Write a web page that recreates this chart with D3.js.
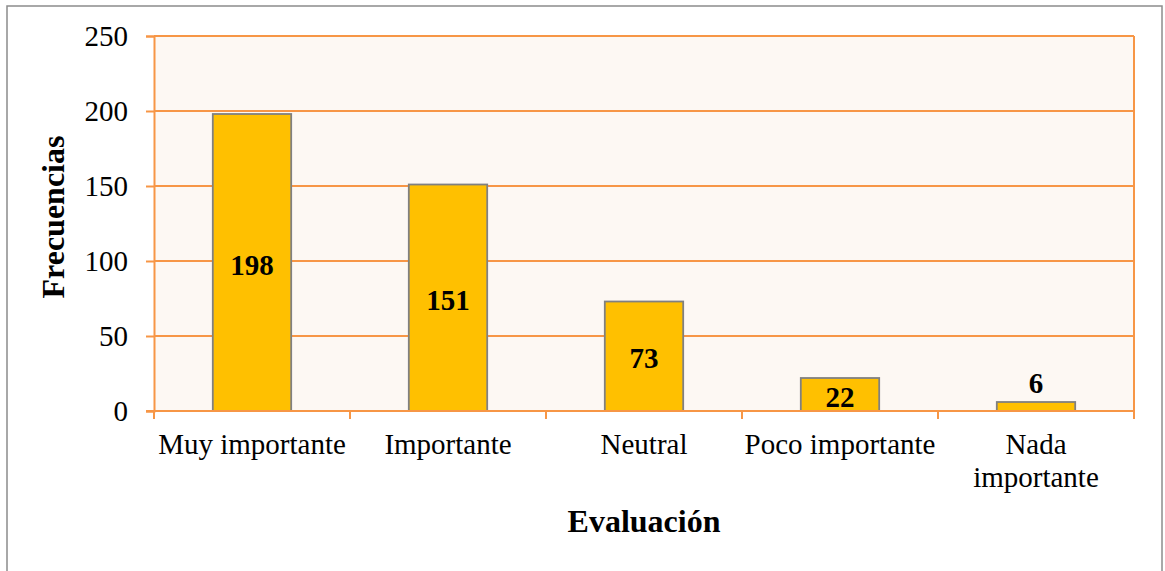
<!DOCTYPE html>
<html>
<head>
<meta charset="utf-8">
<script src="https://cdn.jsdelivr.net/npm/d3@7"></script>
<style>
  html, body { margin: 0; padding: 0; background: #ffffff; }
  svg { display: block; font-family: "Liberation Serif", "Times New Roman", serif; }
</style>
</head>
<body>
<svg id="chart" width="1165" height="571"></svg>
<script>
// Evaluation categories and their counts
const categories = ["Muy importante", "Importante", "Neutral", "Poco importante", "Nada importante"];
const categoryLines = [["Muy importante"], ["Importante"], ["Neutral"], ["Poco importante"], ["Nada", "importante"]];
const frequencies = [198, 151, 73, 22, 6];
const yTicks = [0, 50, 100, 150, 200, 250];

const svg = d3.select("#chart");
const plot = { left: 154, top: 36, right: 1134, bottom: 411 };

// Outer frame
svg.append("rect")
  .attr("x", 7).attr("y", 6)
  .attr("width", 1155).attr("height", 600)
  .attr("fill", "#ffffff")
  .attr("stroke", "#8c8c8c").attr("stroke-width", 1.5);

const x = d3.scaleBand()
  .domain(categories)
  .range([plot.left, plot.right])
  .paddingInner(0.6).paddingOuter(0.3);

const y = d3.scaleLinear().domain([0, 250]).range([plot.bottom, plot.top]);

// Plot background
svg.append("rect")
  .attr("x", plot.left).attr("y", plot.top)
  .attr("width", plot.right - plot.left).attr("height", plot.bottom - plot.top)
  .attr("fill", "#fdf8f3");

const orange = "#f79646";

// Horizontal gridlines
svg.append("g").selectAll("line").data(yTicks.filter(d => d > 0)).join("line")
  .attr("x1", plot.left).attr("x2", plot.right)
  .attr("y1", d => y(d)).attr("y2", d => y(d))
  .attr("stroke", orange).attr("stroke-width", 2);

// Right border of plot area
svg.append("line")
  .attr("x1", plot.right).attr("x2", plot.right)
  .attr("y1", plot.top).attr("y2", plot.bottom)
  .attr("stroke", orange).attr("stroke-width", 2);

// Bars
svg.append("g").selectAll("rect").data(frequencies).join("rect")
  .attr("x", (d, i) => x(categories[i]))
  .attr("y", d => y(d))
  .attr("width", x.bandwidth())
  .attr("height", d => y(0) - y(d))
  .attr("fill", "#ffc000")
  .attr("stroke", "#808080").attr("stroke-width", 1.8);

// Y axis
const yAxis = d3.axisLeft(y).tickValues(yTicks).tickSize(8).tickPadding(18);
const gy = svg.append("g").attr("transform", `translate(${plot.left},0)`).call(yAxis);
gy.select(".domain").attr("stroke", orange).attr("stroke-width", 2);
gy.selectAll(".tick line").attr("stroke", orange).attr("stroke-width", 2);
gy.selectAll(".tick text")
  .attr("font-family", "Liberation Serif, Times New Roman, serif")
  .attr("font-size", 29).attr("fill", "#000");

// X axis: ticks at category boundaries
const boundaries = d3.range(categories.length + 1).map(i => plot.left + i * (plot.right - plot.left) / categories.length);
svg.append("line")
  .attr("x1", plot.left - 8).attr("x2", plot.right)
  .attr("y1", plot.bottom).attr("y2", plot.bottom)
  .attr("stroke", orange).attr("stroke-width", 2);
svg.append("g").selectAll("line").data(boundaries).join("line")
  .attr("x1", d => d).attr("x2", d => d)
  .attr("y1", plot.bottom).attr("y2", plot.bottom + 8)
  .attr("stroke", orange).attr("stroke-width", 2);

// Category labels
const catG = svg.append("g").attr("font-size", 29).attr("text-anchor", "middle").attr("fill", "#000");
categories.forEach((c, i) => {
  const cx = x(c) + x.bandwidth() / 2;
  const t = catG.append("text").attr("x", cx).attr("y", 454);
  categoryLines[i].forEach((line, j) => {
    t.append("tspan").attr("x", cx).attr("dy", j === 0 ? 0 : 33).text(line);
  });
});

// Value labels
svg.append("g").selectAll("text").data(frequencies).join("text")
  .attr("x", (d, i) => x(categories[i]) + x.bandwidth() / 2)
  .attr("y", d => {
    const h = y(0) - y(d);
    return h < 20 ? y(d) - 9 : (y(d) + y(0)) / 2 + 12;
  })
  .attr("text-anchor", "middle")
  .attr("font-size", 29).attr("font-weight", "bold").attr("fill", "#000")
  .text(d => d);

// Axis titles
svg.append("text")
  .attr("transform", "translate(64,217) rotate(-90)")
  .attr("text-anchor", "middle")
  .attr("font-size", 32).attr("font-weight", "bold")
  .text("Frecuencias");

svg.append("text")
  .attr("x", (plot.left + plot.right) / 2).attr("y", 532)
  .attr("text-anchor", "middle")
  .attr("font-size", 32).attr("font-weight", "bold")
  .text("Evaluación");
</script>
</body>
</html>
